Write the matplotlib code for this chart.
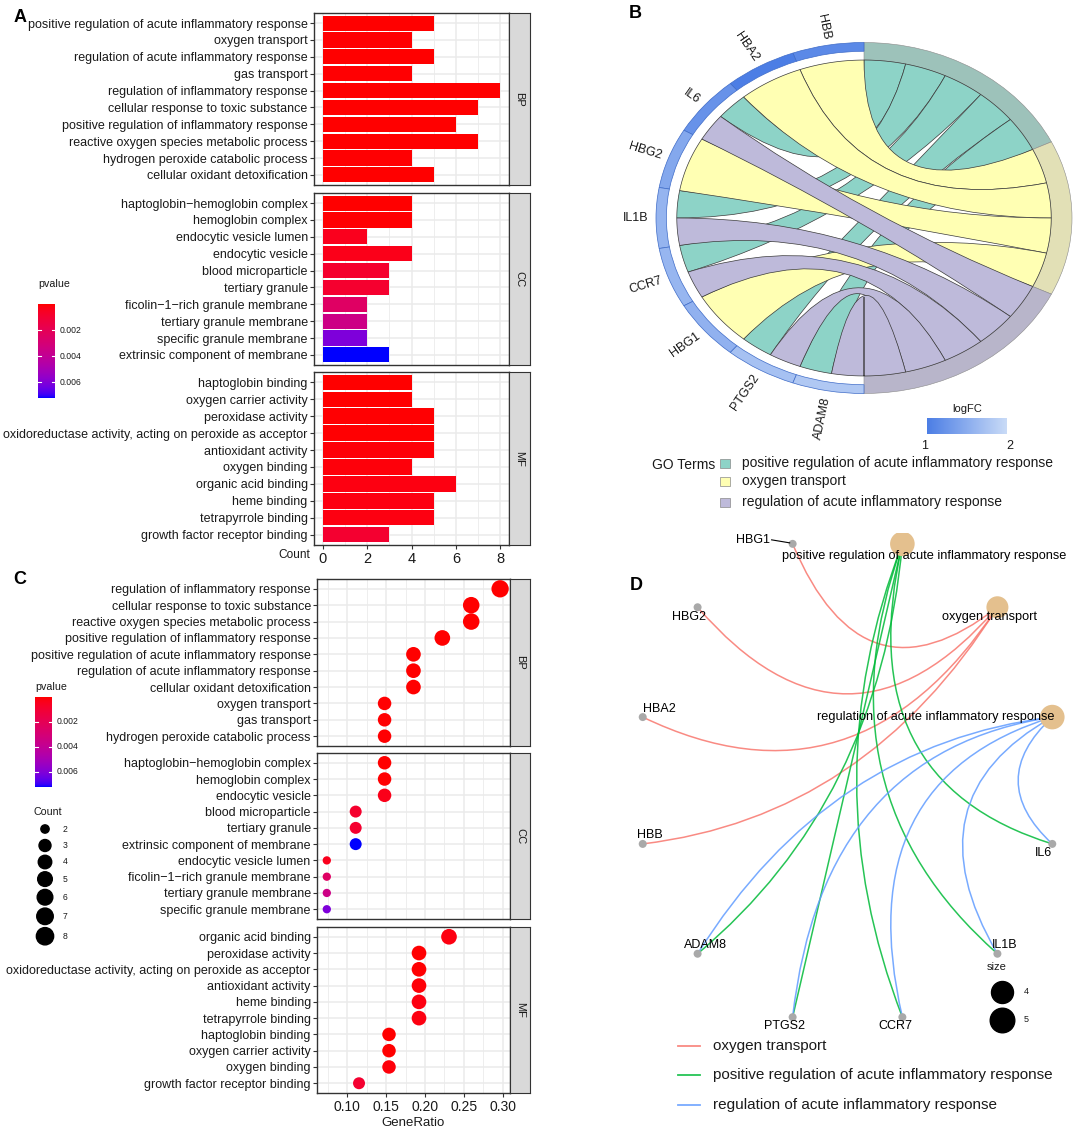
import numpy as np
import matplotlib
matplotlib.use("Agg")
import matplotlib.pyplot as plt
from matplotlib.colors import ListedColormap, LinearSegmentedColormap, Normalize
from matplotlib.path import Path
from matplotlib.patches import PathPatch, Wedge, Rectangle

plt.rcParams["font.family"] = ["Liberation Sans", "DejaVu Sans"]

# ---------------- GO enrichment (panels A and C) ----------------
bp_terms = ["positive regulation of acute inflammatory response", "oxygen transport",
            "regulation of acute inflammatory response", "gas transport",
            "regulation of inflammatory response", "cellular response to toxic substance",
            "positive regulation of inflammatory response", "reactive oxygen species metabolic process",
            "hydrogen peroxide catabolic process", "cellular oxidant detoxification"]
bp_count = [5, 4, 5, 4, 8, 7, 6, 7, 4, 5]
bp_pvalue = [2.0e-5, 3.0e-5, 2.5e-5, 3.5e-5, 1.0e-6, 2.0e-6, 1.5e-5, 3.0e-6, 4.0e-5, 1.8e-5]

cc_terms = ["haptoglobin\u2212hemoglobin complex", "hemoglobin complex", "endocytic vesicle lumen",
            "endocytic vesicle", "blood microparticle", "tertiary granule",
            "ficolin\u22121\u2212rich granule membrane", "tertiary granule membrane",
            "specific granule membrane", "extrinsic component of membrane"]
cc_count = [4, 4, 2, 4, 3, 3, 2, 2, 2, 3]
cc_pvalue = [2.0e-5, 4.5e-5, 4.5e-4, 3.5e-4, 8.0e-4, 8.5e-4, 2.4e-3, 3.5e-3, 6.1e-3, 7.2e-3]

mf_terms = ["haptoglobin binding", "oxygen carrier activity", "peroxidase activity",
            "oxidoreductase activity, acting on peroxide as acceptor", "antioxidant activity",
            "oxygen binding", "organic acid binding", "heme binding", "tetrapyrrole binding",
            "growth factor receptor binding"]
mf_count = [4, 4, 5, 5, 5, 4, 6, 5, 5, 3]
mf_pvalue = [1.5e-5, 1.5e-5, 3.0e-5, 4.0e-5, 1.0e-4, 1.2e-4, 2.0e-4, 2.0e-4, 2.2e-4, 9.0e-4]

# order of terms in the dot plot
bp_dot_terms = ["regulation of inflammatory response", "cellular response to toxic substance",
                "reactive oxygen species metabolic process", "positive regulation of inflammatory response",
                "positive regulation of acute inflammatory response", "regulation of acute inflammatory response",
                "cellular oxidant detoxification", "oxygen transport", "gas transport",
                "hydrogen peroxide catabolic process"]
cc_dot_terms = ["haptoglobin\u2212hemoglobin complex", "hemoglobin complex", "endocytic vesicle",
                "blood microparticle", "tertiary granule", "extrinsic component of membrane",
                "endocytic vesicle lumen", "ficolin\u22121\u2212rich granule membrane",
                "tertiary granule membrane", "specific granule membrane"]
mf_dot_terms = ["organic acid binding", "peroxidase activity",
                "oxidoreductase activity, acting on peroxide as acceptor", "antioxidant activity",
                "heme binding", "tetrapyrrole binding", "haptoglobin binding", "oxygen carrier activity",
                "oxygen binding", "growth factor receptor binding"]
ontologies = ["BP", "CC", "MF"]
gene_ratio_total = [27, 27, 26]
count_legend = [2, 3, 4, 5, 6, 7, 8]
pvalue_ticks = [0.002, 0.004, 0.006]

# ---------------- chord (panel B) ----------------
chord_genes = ["HBB", "HBA2", "IL6", "HBG2", "IL1B", "CCR7", "HBG1", "PTGS2", "ADAM8"]
chord_logfc = [1.12, 1.0, 1.22, 1.45, 1.58, 1.6, 1.55, 1.72, 1.8]
go_terms = ["positive regulation of acute inflammatory response", "oxygen transport",
            "regulation of acute inflammatory response"]
term_genes = [["IL6", "IL1B", "CCR7", "PTGS2", "ADAM8"],
              ["HBB", "HBA2", "HBG2", "HBG1"],
              ["IL6", "IL1B", "CCR7", "PTGS2", "ADAM8"]]

# ---------------- network (panel D) ----------------
net_nodes = ["regulation of acute inflammatory response", "oxygen transport",
             "positive regulation of acute inflammatory response",
             "HBG1", "HBG2", "HBA2", "HBB", "ADAM8", "PTGS2", "CCR7", "IL1B", "IL6"]
net_term_size = [5, 4, 5]
size_legend = [4, 5]

# ---------------- styles ----------------
W, H = 1084, 1134
fig = plt.figure(figsize=(W / 100, H / 100), dpi=100)
EDGE = "#333333"
GRID = "#EBEBEB"
TXT = "#1A1A1A"


def px_axes(x0, y0, x1, y1):
    return fig.add_axes([x0 / W, 1 - y1 / H, (x1 - x0) / W, (y1 - y0) / H])


def lab_gradient(c0, c1, n=256):
    # ggplot style gradient, interpolated in CIE Lab
    M = np.array([[0.4124, 0.3576, 0.1805], [0.2126, 0.7152, 0.0722], [0.0193, 0.1192, 0.9505]])
    white = np.array([0.95047, 1.0, 1.08883])

    def to_lab(rgb):
        c = np.asarray(rgb, float)
        lin = np.where(c <= 0.04045, c / 12.92, ((c + 0.055) / 1.055) ** 2.4)
        xyz = M @ lin / white
        f = np.where(xyz > 0.008856, np.cbrt(xyz), 7.787 * xyz + 16 / 116)
        return np.array([116 * f[1] - 16, 500 * (f[0] - f[1]), 200 * (f[1] - f[2])])

    t = np.linspace(0, 1, n)[:, None]
    lab = (1 - t) * to_lab(c0) + t * to_lab(c1)
    fy = (lab[:, 0] + 16) / 116
    f = np.stack([fy + lab[:, 1] / 500, fy, fy - lab[:, 2] / 200], axis=1)
    xyz = np.where(f > 0.206893, f ** 3, (f - 16 / 116) / 7.787) * white
    lin = np.clip(xyz @ np.linalg.inv(M).T, 0, 1)
    c = np.where(lin <= 0.0031308, 12.92 * lin, 1.055 * lin ** (1 / 2.4) - 0.055)
    return ListedColormap(np.clip(c, 0, 1))


pcmap = lab_gradient((1, 0, 0), (0, 0, 1))
all_p = bp_pvalue + cc_pvalue + mf_pvalue
pnorm = Normalize(vmin=min(all_p), vmax=max(all_p))


def style_panel(ax):
    for s in ax.spines.values():
        s.set_color(EDGE)
        s.set_linewidth(1.0)
    ax.tick_params(axis="both", which="major", length=3, width=0.8, color=EDGE,
                   labelsize=9, labelcolor=TXT, pad=1.5)
    ax.tick_params(axis="x", which="minor", length=0)
    ax.grid(which="major", color=GRID, lw=1.1)
    ax.grid(which="minor", axis="x", color=GRID, lw=0.6)
    ax.set_axisbelow(True)


def add_strip(x0, y0, x1, y1, label):
    s = px_axes(x0, y0, x1, y1)
    s.set_facecolor("#D9D9D9")
    s.set_xticks([])
    s.set_yticks([])
    for sp in s.spines.values():
        sp.set_color(EDGE)
    s.text(0.5, 0.5, label, rotation=-90, ha="center", va="center", fontsize=8,
           color=TXT, transform=s.transAxes)


def pvalue_bar(x0, y0, x1, y1, title_gap):
    fig.text(x0 / W, 1 - (y0 - title_gap) / H, "pvalue", fontsize=7.7, color=TXT, ha="left", va="center")
    cb = px_axes(x0, y0, x1, y1)
    grad = np.linspace(pnorm.vmin, pnorm.vmax, 200)[:, None]
    cb.imshow(grad, cmap=pcmap, norm=pnorm, aspect="auto",
              extent=[0, 1, pnorm.vmax, pnorm.vmin])
    cb.set_xlim(0, 1)
    cb.set_ylim(pnorm.vmax, pnorm.vmin)
    for v in pvalue_ticks:
        cb.plot([0, 0.2], [v, v], color="white", lw=0.8)
        cb.plot([0.8, 1], [v, v], color="white", lw=0.8)
        yy = y0 + (v - pnorm.vmin) / (pnorm.vmax - pnorm.vmin) * (y1 - y0)
        fig.text((x1 + 5) / W, 1 - yy / H, f"{v:.3f}", fontsize=6.2, color=TXT, va="center")
    cb.axis("off")


# ---------------- Panel A: bar chart ----------------
a_data = [(bp_terms, bp_count, bp_pvalue), (cc_terms, cc_count, cc_pvalue), (mf_terms, mf_count, mf_pvalue)]
a_rows = [(13, 185), (193, 365), (372, 545)]
for i, ((terms, counts, pv), (y0, y1)) in enumerate(zip(a_data, a_rows)):
    ax = px_axes(314, y0, 509, y1)
    y = np.arange(len(terms))
    ax.barh(y, counts, height=0.9, color=pcmap(pnorm(pv)), zorder=2)
    ax.set_ylim(len(terms) - 0.4, -0.6)
    ax.set_xlim(-0.4, 8.4)
    ax.set_yticks(y)
    ax.set_yticklabels(terms)
    ax.set_xticks([0, 2, 4, 6, 8])
    ax.set_xticks([1, 3, 5, 7], minor=True)
    style_panel(ax)
    if i < 2:
        ax.tick_params(axis="x", which="major", length=0, labelbottom=False)
    else:
        ax.tick_params(axis="x", labelsize=10.5, pad=2)
    add_strip(509, y0, 530, y1, ontologies[i])
fig.text(310 / W, 1 - 555 / H, "Count", fontsize=8.6, color=TXT, ha="right", va="center")
pvalue_bar(38, 304, 55, 398, 20)

# ---------------- Panel C: dot plot ----------------
lookup = {}
for terms, counts, pv in a_data:
    for t, c, p in zip(terms, counts, pv):
        lookup[t] = (c, p)


def dot_size(count):
    d_px = 8.3 + 9 * np.sqrt((np.asarray(count, float) - 2) / 6)
    return (d_px * 0.72) ** 2


c_data = [bp_dot_terms, cc_dot_terms, mf_dot_terms]
c_rows = [(579, 746), (753, 919), (927, 1093)]
for i, (terms, (y0, y1)) in enumerate(zip(c_data, c_rows)):
    ax = px_axes(317, y0, 510, y1)
    counts = [lookup[t][0] for t in terms]
    pv = [lookup[t][1] for t in terms]
    ratio = np.array(counts) / gene_ratio_total[i]
    y = np.arange(len(terms))
    ax.scatter(ratio, y, s=dot_size(counts), c=pcmap(pnorm(pv)), edgecolors="none", zorder=3)
    ax.set_ylim(len(terms) - 0.4, -0.6)
    ax.set_xlim(0.0615, 0.309)
    ax.set_yticks(y)
    ax.set_yticklabels(terms)
    ax.set_xticks([0.10, 0.15, 0.20, 0.25, 0.30])
    ax.set_xticks([0.075, 0.125, 0.175, 0.225, 0.275], minor=True)
    style_panel(ax)
    if i < 2:
        ax.tick_params(axis="x", which="major", length=0, labelbottom=False)
    else:
        ax.set_xticklabels(["0.10", "0.15", "0.20", "0.25", "0.30"])
        ax.tick_params(axis="x", labelsize=10, pad=2)
        ax.set_xlabel("GeneRatio", fontsize=9.5, color=TXT, labelpad=2)
    add_strip(510, y0, 530, y1, ontologies[i])
pvalue_bar(35, 697, 52, 787, 10)

# ---------------- Panel B: chord diagram ----------------
cxb, cyb, rxb, ryb = 864, 218, 208, 175.5
bx0, bx1, by0, by1 = 590, 1084, 0, 452
axB = px_axes(bx0, by0, bx1, by1)
axB.set_xlim((bx0 - cxb) / rxb, (bx1 - cxb) / rxb)
axB.set_ylim((cyb - by1) / ryb, (cyb - by0) / ryb)
axB.axis("off")

ribbon_cols = ["#8DD3C7", "#FFFFB3", "#BEBADA"]
ring_cols = ["#9DC2BA", "#E2E0B6", "#B8B5CA"]
lfc_cmap = LinearSegmentedColormap.from_list("lfc", ["#4C7EE5", "#C9DBF7"])
lfc_norm = Normalize(1, 2)

n_links = sum(len(g) for g in term_genes)
unit = 180 / n_links
gspan = 180 / len(chord_genes)
r_in = 0.90


def arc_pts(a0, a1, r, n=40):
    a = np.radians(np.linspace(a0, a1, n))
    return np.column_stack([r * np.cos(a), r * np.sin(a)])


def ribbon(g0, g1, t0, t1, r):
    ga = arc_pts(g0, g1, r)
    ta = arc_pts(t1, t0, r)
    verts = list(ga) + [(0, 0), ta[0]] + list(ta[1:]) + [(0, 0), ga[0], ga[0]]
    codes = ([Path.MOVETO] + [Path.LINETO] * (len(ga) - 1) + [Path.CURVE3, Path.CURVE3]
             + [Path.LINETO] * (len(ta) - 1) + [Path.CURVE3, Path.CURVE3, Path.CLOSEPOLY])
    return Path(verts, codes)


# gene slots: each gene segment is split between its terms (in term order)
gene_terms = {g: [k for k, tg in enumerate(term_genes) if g in tg] for g in chord_genes}
t_start = 90.0
for k, genes in enumerate(term_genes):
    t_end = t_start - unit * len(genes)
    axB.add_patch(Wedge((0, 0), 1.0, t_end, t_start, width=0.1, facecolor=ring_cols[k],
                        edgecolor="#8A8A8A", lw=0.4))
    for m, g in enumerate(genes):
        gi = chord_genes.index(g)
        nt = len(gene_terms[g])
        j = gene_terms[g].index(k)
        g0 = 90 + gi * gspan + j * gspan / nt
        g1 = g0 + gspan / nt
        t0 = t_start - m * unit
        t1 = t0 - unit
        axB.add_patch(PathPatch(ribbon(g0, g1, t0, t1, r_in), facecolor=ribbon_cols[k],
                                edgecolor="#3A3A3A", lw=0.5))
    t_start = t_end

for gi, (g, lfc) in enumerate(zip(chord_genes, chord_logfc)):
    a0 = 90 + gi * gspan
    axB.add_patch(Wedge((0, 0), 1.0, a0, a0 + gspan, width=0.05,
                        facecolor=lfc_cmap(lfc_norm(lfc)), edgecolor="#3F6CC8", lw=0.5))
    am = np.radians(a0 + gspan / 2)
    rot = np.degrees(np.arctan2(np.sin(am) * ryb, np.cos(am) * rxb)) - 180
    axB.text(1.035 * np.cos(am), 1.035 * np.sin(am), g, rotation=rot, rotation_mode="anchor",
             ha="right", va="center", fontsize=9, color=TXT)

# ---------------- Panel D: gene-concept network ----------------
cxd, cyd, rxd, ryd = 847.5, 780.5, 212, 245
dx0, dx1, dy0, dy1 = 600, 1084, 533, 1050
axD = px_axes(dx0, dy0, dx1, dy1)
axD.set_xlim((dx0 - cxd) / rxd, (dx1 - cxd) / rxd)
axD.set_ylim((cyd - dy1) / ryd, (cyd - dy0) / ryd)
axD.axis("off")

node_ang = {n: 15 + 30 * i for i, n in enumerate(net_nodes)}
node_pos = {n: np.array([np.cos(np.radians(a)), np.sin(np.radians(a))]) for n, a in node_ang.items()}
edge_cols = {"oxygen transport": "#F8766D",
             "positive regulation of acute inflammatory response": "#00BA38",
             "regulation of acute inflammatory response": "#619CFF"}
edge_order = ["oxygen transport", "positive regulation of acute inflammatory response",
              "regulation of acute inflammatory response"]


def net_edge(a, b):
    p, q = node_pos[a], node_pos[b]
    d = abs((node_ang[a] - node_ang[b] + 180) % 360 - 180)
    ctrl = (p + q) / 2 * (1 - d / 90)
    return Path([p, ctrl, q], [Path.MOVETO, Path.CURVE3, Path.CURVE3])


for term in edge_order:
    for g in term_genes[go_terms.index(term)]:
        axD.add_patch(PathPatch(net_edge(term, g), facecolor="none", edgecolor=edge_cols[term],
                                lw=1.1, alpha=0.85, zorder=2))

for n in net_nodes:
    x, y = node_pos[n]
    if n in go_terms:
        size = net_term_size[go_terms.index(n)]
        axD.scatter([x], [y], s=(11 * np.sqrt(size) * 0.72) ** 2, color="#E4C08E",
                    edgecolors="none", zorder=3)
    else:
        axD.scatter([x], [y], s=(8 * 0.72) ** 2, color="#A9A9A9", edgecolors="none", zorder=3)

# repelled label offsets (px) and alignment
label_offsets = {"regulation of acute inflammatory response": (2, 0, "right"),
                 "oxygen transport": (-8, 10, "center"),
                 "positive regulation of acute inflammatory response": (22, 12, "center"),
                 "HBG1": (-23, -4, "right"), "HBG2": (-9, 10, "center"),
                 "HBA2": (17, -8, "center"), "HBB": (7, -9, "center"),
                 "ADAM8": (8, -9, "center"), "PTGS2": (-8, 9, "center"),
                 "CCR7": (-7, 9, "center"), "IL1B": (7, -9, "center"), "IL6": (-9, 9, "center")}
for n in net_nodes:
    ox, oy, ha = label_offsets[n]
    x, y = node_pos[n]
    tx, ty = x + ox / rxd, y - oy / ryd
    axD.text(tx, ty, n, ha=ha, va="center", fontsize=9.2 if n in go_terms else 9,
             color="black", zorder=5, clip_on=False)
    if n == "HBG1":
        axD.plot([tx + 2 / rxd, x - 3 / rxd], [ty, y + 1 / ryd], color="black", lw=0.8, zorder=4)

# ---------------- overlay: legends and panel letters ----------------
ov = fig.add_axes([0, 0, 1, 1])
ov.set_xlim(0, W)
ov.set_ylim(H, 0)
ov.axis("off")

# Count size legend (panel C)
ov.text(33, 812, "Count", fontsize=7.7, color=TXT, va="center")
d_leg = 8.3 + 9 * np.sqrt((np.array(count_legend) - 2) / 6)
key_h = np.maximum(16.5, d_leg + 3)
y_leg = 829 + np.concatenate([[0], np.cumsum((key_h[:-1] + key_h[1:]) / 2)])
ov.scatter(np.full(len(count_legend), 45), y_leg, s=dot_size(count_legend), color="black", zorder=3)
for c, yy in zip(count_legend, y_leg):
    ov.text(63, yy, str(c), fontsize=6.2, color=TXT, va="center")

# logFC bar (panel B)
cbx = px_axes(927, 418, 1007, 434)
cbx.imshow(np.linspace(1, 2, 200)[None, :], cmap=lfc_cmap, norm=lfc_norm, aspect="auto")
cbx.axis("off")
ov.text(967, 409, "logFC", fontsize=8, color=TXT, ha="center", va="center")
ov.text(925, 446, "1", fontsize=9, color=TXT, ha="center", va="center")
ov.text(1010, 446, "2", fontsize=9, color=TXT, ha="center", va="center")

# GO terms legend (panel B)
ov.text(652, 465, "GO Terms", fontsize=10, color=TXT, va="center")
for k, (t, yy) in enumerate(zip(go_terms, [463, 481, 502])):
    ov.add_patch(Rectangle((720, yy - 4.5), 10, 9, facecolor=ribbon_cols[k], edgecolor="#8A8A8A", lw=0.5))
    ov.text(742, yy, t, fontsize=10, color=TXT, va="center")

# edge legend (panel D)
for t, yy in zip(edge_order, [1046, 1075, 1105]):
    ov.plot([678, 700], [yy, yy], color=edge_cols[t], lw=1.3, alpha=0.85)
    ov.text(713, yy, t, fontsize=11, color=TXT, va="center")

# size legend (panel D)
ov.text(997, 967, "size", fontsize=8, color=TXT, ha="center", va="center")
for s, yy in zip(size_legend, [992, 1020]):
    ov.scatter([1002], [yy], s=(11 * np.sqrt(s) * 0.72) ** 2, color="black", zorder=3)
    ov.text(1024, yy, str(s), fontsize=6.5, color=TXT, va="center")

for letter, (x, y) in zip("ABCD", [(20, 18), (635, 13), (20, 580), (636, 585)]):
    ov.text(x, y, letter, fontsize=13, fontweight="bold", ha="center", va="center")

fig.savefig("out.png", dpi=100)
